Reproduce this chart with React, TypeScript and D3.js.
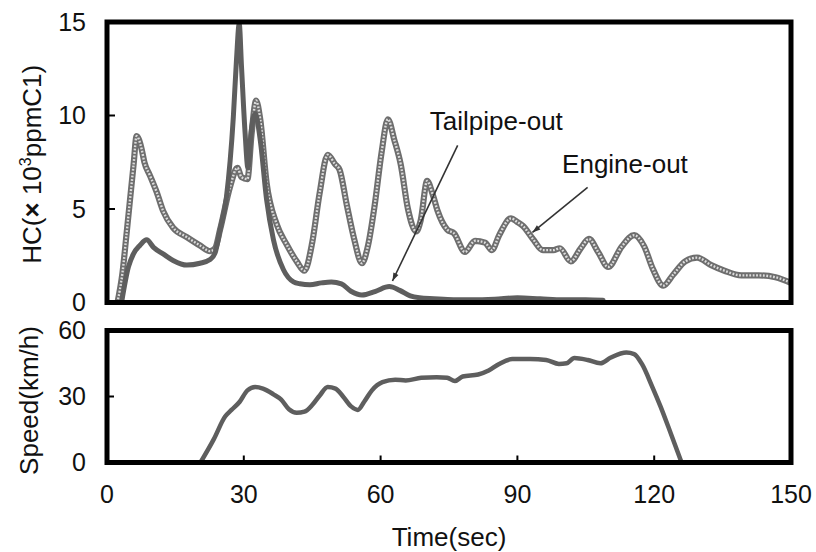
import React from "react";
import * as d3 from "d3";

// Engine-out HC (x10^3 ppmC1) : [time sec, value]
const engineOut: [number, number][] = [
  [2.3, 0], [3.4, 1.6], [4.3, 3.7], [5.8, 7.3], [6.5, 8.9], [7.6, 8.2], [8.2, 7.5], [9.4, 6.8],
  [10.9, 5.9], [12.3, 4.9], [14.5, 4.0], [17.5, 3.5], [20.4, 3.05], [22.6, 2.75], [23.7, 2.9],
  [24.8, 3.9], [27, 6.2], [28.6, 7.2], [29.5, 6.7], [30.8, 6.6], [31.7, 9.0], [32.7, 10.8],
  [33.6, 9.8], [35, 6.4], [37.2, 4.2], [39.4, 3.1], [41.6, 2.2], [43.3, 1.7], [45, 3.2],
  [46.6, 5.8], [48.4, 7.9], [50, 7.4], [51, 7.1], [52.6, 5.2], [54.2, 3.4], [55.9, 2.1],
  [57.2, 3.0], [58.7, 5.2], [60.2, 8.0], [61.6, 9.8], [63, 8.7], [64.4, 7.4], [66, 5.0],
  [67.8, 3.8], [68.8, 4.4], [70.2, 6.5], [71.4, 5.8], [72.5, 4.9], [74.6, 3.9], [76.1, 3.7],
  [78.5, 2.7], [80.7, 3.3], [82.9, 3.2], [84.4, 2.8], [86, 3.6], [88.6, 4.5], [90, 4.3],
  [91.2, 4.1], [93.4, 3.4], [95.6, 2.8], [97.9, 2.8], [99.3, 2.9], [101.7, 2.2], [103.9, 2.9],
  [105.7, 3.4], [107.7, 2.7], [109.9, 1.9], [112.9, 3.0], [115.6, 3.6], [117.8, 3.0],
  [119.7, 1.8], [122, 0.9], [124.2, 1.5], [126.8, 2.2], [129.4, 2.4], [132.5, 2.0],
  [135.4, 1.7], [139.1, 1.45], [142.9, 1.45], [146.6, 1.35], [150, 1.05],
];

// Tailpipe-out HC (x10^3 ppmC1) : [time sec, value]
const tailpipeOut: [number, number][] = [
  [3.2, 0], [4.7, 1.9], [5.8, 2.6], [7.2, 3.05], [8.7, 3.35], [10.2, 2.95], [12.3, 2.6],
  [14.5, 2.25], [17.5, 2.0], [20.4, 2.1], [22.6, 2.3], [23.7, 2.65], [24.8, 3.9], [26.2, 5.65],
  [27.7, 9.9], [28.4, 13], [29.0, 14.9], [29.5, 12.6], [30.3, 9.0], [30.9, 7.2], [31.7, 9.3],
  [32.5, 10.1], [33.6, 8.7], [35, 5.5], [36.5, 3.35], [38.7, 1.75], [40.9, 1.1], [42.3, 1.0],
  [44.5, 0.95], [47, 1.05], [49.2, 1.1], [51.4, 1.0], [53.5, 0.6], [55.9, 0.4], [58.9, 0.6],
  [61.9, 0.85], [64.2, 0.65], [66.5, 0.35], [68.5, 0.25], [71.7, 0.2], [76, 0.15], [80, 0.15],
  [85, 0.18], [90, 0.25], [95, 0.2], [100, 0.15], [105, 0.15], [108.8, 0.12],
];

// Vehicle speed (km/h) : [time sec, value]
const speed: [number, number][] = [
  [20.5, 0], [23.4, 10.5], [25.9, 20.9], [27.3, 23.9], [29.1, 27.6], [30.8, 32.8], [32.5, 34.3],
  [34.2, 33.6], [36.5, 31.0], [38.2, 28.6], [39.9, 24.2], [41.6, 22.6], [43.3, 23.1],
  [45, 26.1], [46.7, 30.6], [48.4, 34.3], [50.1, 33.6], [51.8, 29.9], [53.6, 25.4], [55, 23.9],
  [56.4, 27.6], [58.1, 32.8], [60.4, 36.5], [63.2, 37.6], [65.5, 37.3], [68.9, 38.5],
  [72.3, 38.8], [74.6, 38.5], [76.3, 37.0], [78, 39.1], [81.4, 40.0], [83.7, 41.8], [86, 44.8],
  [88.9, 47.0], [92.8, 47.0], [96.3, 46.6], [99.1, 44.8], [100.8, 45.1], [102.5, 47.5],
  [105.4, 46.6], [108.2, 45.1], [110.5, 47.7], [113.9, 50.0], [115.6, 49.3], [117.3, 44.8],
  [119.6, 34.3], [121.4, 25.4], [123.6, 13.4], [126, 0],
];

const xTicks = [0, 30, 60, 90, 120, 150];
const hcTicks = [0, 5, 10, 15];
const speedTicks = [0, 30, 60];

const W = 816;
const H = 552;
const FONT = "'Liberation Sans', Arial, Helvetica, sans-serif";

export default function App() {
  const x = d3.scaleLinear().domain([0, 150]).range([107, 791]);
  const yHC = d3.scaleLinear().domain([0, 15]).range([302.5, 22]);
  const ySp = d3.scaleLinear().domain([0, 60]).range([462.5, 330.5]);

  const lineHC = d3
    .line<[number, number]>()
    .x((d) => x(d[0]))
    .y((d) => yHC(d[1]))
    .curve(d3.curveMonotoneX);
  const lineSp = d3
    .line<[number, number]>()
    .x((d) => x(d[0]))
    .y((d) => ySp(d[1]))
    .curve(d3.curveMonotoneX);

  const left = x(0);
  const right = x(150);

  // annotation anchors in data coordinates
  const tpArrow = { x1: 76.9, y1: 8.4, x2: 62.6, y2: 1.15 };
  const eoArrow = { x1: 105.4, y1: 6.15, x2: 93.3, y2: 3.75 };

  return (
    <svg
      width={W}
      height={H}
      style={{ position: "absolute", left: 0, top: 0, background: "#fff" }}
      fontFamily={FONT}
    >
      <defs>
        <marker
          id="ah"
          viewBox="0 0 10 10"
          refX="10"
          refY="5"
          markerWidth="10"
          markerHeight="8"
          markerUnits="userSpaceOnUse"
          orient="auto"
        >
          <path d="M0,1.5 L10,5 L0,8.5 Z" fill="#333" />
        </marker>
        <clipPath id="clipTop">
          <rect x={left} y={yHC(15) - 3} width={right - left} height={yHC(0) - yHC(15) + 3} />
        </clipPath>
      </defs>

      {/* Engine-out: beaded grey line */}
      <g clipPath="url(#clipTop)">
        <path d={lineHC(engineOut) || ""} fill="none" stroke="#6e6e6e" strokeWidth={6.2} strokeLinejoin="round" />
        <path
          d={lineHC(engineOut) || ""}
          fill="none"
          stroke="#dcdcdc"
          strokeWidth={2.4}
          strokeDasharray="1.8 1.6"
          strokeLinejoin="round"
        />
        {/* Tailpipe-out */}
        <path d={lineHC(tailpipeOut) || ""} fill="none" stroke="#5e5e5e" strokeWidth={5} strokeLinejoin="round" strokeLinecap="round" />
      </g>

      {/* Speed */}
      <path d={lineSp(speed) || ""} fill="none" stroke="#5e5e5e" strokeWidth={4.5} strokeLinejoin="round" />

      {/* Panel frames */}
      <rect x={left} y={yHC(15)} width={right - left} height={yHC(0) - yHC(15)} fill="none" stroke="#000" strokeWidth={5} />
      <rect x={left} y={ySp(60)} width={right - left} height={ySp(0) - ySp(60)} fill="none" stroke="#000" strokeWidth={5} />

      {/* Top panel ticks + labels */}
      {hcTicks.map((t) => (
        <g key={"hc" + t}>
          {t > 0 && t < 15 && <line x1={left} x2={left + 8} y1={yHC(t)} y2={yHC(t)} stroke="#000" strokeWidth={2} />}
          <text x={86} y={yHC(t) + 2} fontSize={25} textAnchor="end" dominantBaseline="middle" fill="#111">
            {t}
          </text>
        </g>
      ))}

      {/* Bottom panel ticks + labels */}
      {speedTicks.map((t) => (
        <g key={"sp" + t}>
          {t > 0 && t < 60 && <line x1={left} x2={left + 7} y1={ySp(t)} y2={ySp(t)} stroke="#000" strokeWidth={2} />}
          <text x={86} y={ySp(t) + 2} fontSize={25} textAnchor="end" dominantBaseline="middle" fill="#111">
            {t}
          </text>
        </g>
      ))}
      {xTicks.map((t) => (
        <g key={"x" + t}>
          {t > 0 && t < 150 && <line x1={x(t)} x2={x(t)} y1={ySp(0)} y2={ySp(0) - 7} stroke="#000" strokeWidth={2} />}
          <text x={x(t)} y={496} fontSize={25} textAnchor="middle" dominantBaseline="middle" fill="#111">
            {t}
          </text>
        </g>
      ))}

      {/* Axis titles */}
      <text x={449} y={546} fontSize={26} textAnchor="middle" fill="#111">
        Time(sec)
      </text>
      <text
        transform={`translate(41, ${(yHC(0) + yHC(15)) / 2 + 2}) rotate(-90)`}
        fontSize={26}
        textAnchor="middle"
        fill="#111"
      >
        HC(<tspan fontWeight="bold">×</tspan> 10<tspan dy={-10} fontSize={16}>3</tspan>
        <tspan dy={10}>ppmC1)</tspan>
      </text>
      <text
        transform={`translate(38, ${(ySp(0) + ySp(60)) / 2 + 4}) rotate(-90)`}
        fontSize={26}
        textAnchor="middle"
        fill="#111"
      >
        Speed(km/h)
      </text>

      {/* Annotations */}
      <text x={x(70.8)} y={yHC(9.2)} fontSize={26} fill="#111">
        Tailpipe-out
      </text>
      <line
        x1={x(tpArrow.x1)}
        y1={yHC(tpArrow.y1)}
        x2={x(tpArrow.x2)}
        y2={yHC(tpArrow.y2)}
        stroke="#333"
        strokeWidth={1.6}
        markerEnd="url(#ah)"
      />
      <text x={x(99.8)} y={yHC(6.95)} fontSize={26} fill="#111">
        Engine-out
      </text>
      <line
        x1={x(eoArrow.x1)}
        y1={yHC(eoArrow.y1)}
        x2={x(eoArrow.x2)}
        y2={yHC(eoArrow.y2)}
        stroke="#333"
        strokeWidth={1.6}
        markerEnd="url(#ah)"
      />
    </svg>
  );
}
